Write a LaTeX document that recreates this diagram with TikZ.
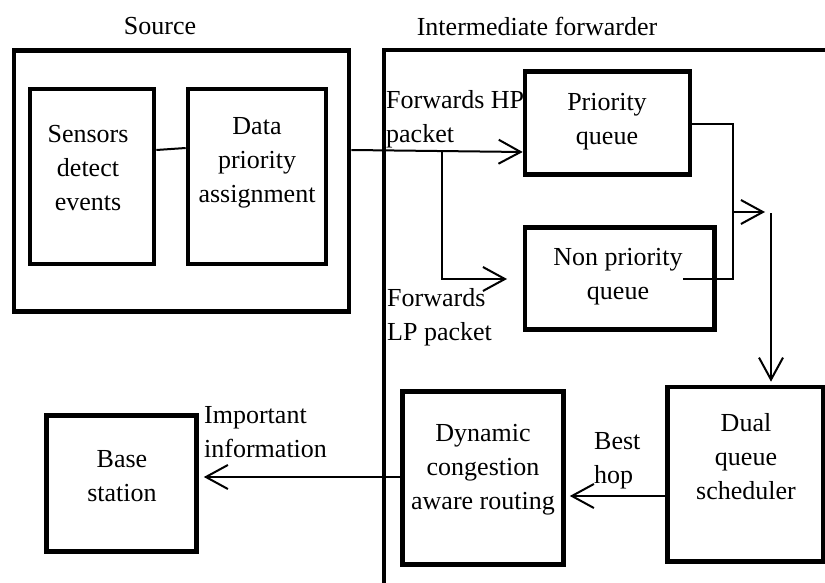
\documentclass[tikz,border=0pt]{standalone}
\usepackage{fontspec}
\setmainfont{Liberation Serif}
\usetikzlibrary{arrows.meta}
\begin{document}
\begin{tikzpicture}[x=1pt,y=-1pt,
  box/.style={draw,line width=4.6pt,inner sep=0pt},
  txt/.style={inner sep=0pt,align=center,font=\fontsize{26}{34}\selectfont},
  ltxt/.style={inner sep=0pt,align=left,font=\fontsize{26}{34}\selectfont},
  link/.style={line width=2pt},
  arr/.style={link,-{Straight Barb[length=22pt,width=24pt,line width=2pt]}},
]
\useasboundingbox (0,0) rectangle (825,583);
\clip (0,0) rectangle (825,583);
\fill[white] (0,0) rectangle (825,583);

% frame of the intermediate forwarder
\draw[line width=4.4pt] (384,600) -- (384,50) -- (840,50);

% boxes
\node[box,minimum width=335pt,minimum height=261pt] (src) at (181.5,181) {};
\node[box,minimum width=124pt,minimum height=175pt] (sens) at (92,176.5) {};
\node[box,minimum width=138pt,minimum height=175pt] (data) at (257,176.5) {};
\node[box,minimum width=165pt,minimum height=103pt] (prio) at (607.5,123) {};
\node[box,minimum width=189.5pt,minimum height=102pt] (np) at (619.75,278.5) {};
\node[box,minimum width=150pt,minimum height=136pt] (base) at (121.5,483.5) {};
\node[box,minimum width=161pt,minimum height=173pt] (dyn) at (483,478) {};
\node[box,minimum width=155.5pt,minimum height=174.5pt] (dual) at (745.25,474.25) {};

% helper coordinates
\coordinate (h148) at (0,148);
\coordinate (h150) at (0,150);
\coordinate (h152) at (0,152);
\coordinate (h124) at (0,124);
\coordinate (h477) at (0,477);
\coordinate (h496) at (0,496);
\coordinate (b1) at (442,151);
\coordinate (b2) at (442,279);
\coordinate (b3) at (507,279);
\coordinate (m1) at (733,124);
\coordinate (m2) at (734,279);
\coordinate (npin) at (683,279);
\coordinate (m3) at (733,212);
\coordinate (m4) at (765,212);
\coordinate (d1) at (771,213);

% connectors
\draw[link] (sens.east |- h150) -- (data.west |- h148);
\draw[arr] (src.east |- h150) -- (prio.west |- h152);
\draw[arr] (b1) -- (b2) -- (b3);
\draw[link] (prio.east |- h124) -- (m1) -- (733,279);
\draw[link] (npin) -- (m2);
\draw[arr] (m3) -- (m4);
\draw[arr,shorten >=3pt] (d1) -- (dual.north -| d1);
\draw[arr,shorten >=4pt] (dual.west |- h496) -- (dyn.east |- h496);
\draw[arr,shorten >=5pt] (dyn.west |- h477) -- (base.east |- h477);

% texts
\node[txt] (tsrc) at (160,26) {Source};
\node[txt] (tif) at (537,26) {Intermediate forwarder};
\node[txt] (tsens) at (88,168) {Sensors\\detect\\events};
\node[txt] (tdata) at (257,163) {Data\\priority\\assignment};
\node[txt] (tprio) at (607,122) {Priority\\queue};
\node[txt] (tnp) at (618,277) {Non priority\\queue};
\node[ltxt,anchor=west] (thp) at (386,119) {Forwards HP\\packet};
\node[ltxt,anchor=west] (tlp) at (387,317) {Forwards\\LP packet};
\node[ltxt,anchor=west] (timp) at (204,432) {Important\\information};
\node[txt] (tbase) at (122,476) {Base\\station};
\node[txt] (tdyn) at (483,470) {Dynamic\\congestion\\aware routing};
\node[ltxt,anchor=west] (tbest) at (594,461) {Best\\hop};
\node[txt] (tdual) at (746,457) {Dual\\queue\\scheduler};
\end{tikzpicture}
\end{document}
